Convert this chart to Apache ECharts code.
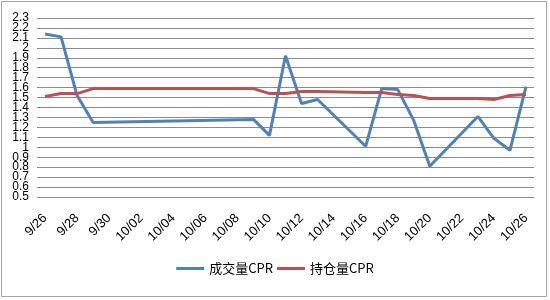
<!DOCTYPE html>
<html>
<head>
<meta charset="utf-8">
<script src="https://cdn.jsdelivr.net/npm/echarts@6/dist/echarts.min.js"></script>
<style>
html,body{margin:0;padding:0;background:#fff;}
#c{width:550px;height:300px;}
</style>
</head>
<body>
<div id="c"></div>
<script>
// All calendar days on the axis (tick labels)
var days = ['9/26','9/27','9/28','9/29','9/30','10/01','10/02','10/03','10/04','10/05','10/06','10/07','10/08','10/09','10/10','10/11','10/12','10/13','10/14','10/15','10/16','10/17','10/18','10/19','10/20','10/21','10/22','10/23','10/24','10/25','10/26'];
// Y tick values
var yTicks = [0.5,0.6,0.7,0.8,0.9,1,1.1,1.2,1.3,1.4,1.5,1.6,1.7,1.8,1.9,2,2.1,2.2,2.3];
// Trading days with data
var tradeDays = ['9/26','9/27','9/28','9/29','10/09','10/10','10/11','10/12','10/13','10/16','10/17','10/18','10/19','10/20','10/23','10/24','10/25','10/26'];
var volumeCPR = [2.14,2.11,1.52,1.25,1.28,1.12,1.92,1.44,1.48,1.01,1.59,1.58,1.27,0.81,1.31,1.09,0.97,1.61];
var oiCPR     = [1.51,1.54,1.54,1.59,1.59,1.54,1.54,1.56,1.56,1.55,1.55,1.53,1.52,1.49,1.49,1.48,1.52,1.53];
var seriesNames = ['成交量CPR','持仓量CPR'];

function pairs(vals){ return tradeDays.map(function(d,i){ return [d, vals[i]]; }); }
var evenTicks = yTicks.filter(function(v,i){return i%2===0;});
var oddTicks = yTicks.filter(function(v,i){return i%2===1;});

function yAxisOf(ticks, showSplit){
  return {
    type:'value',min:yTicks[0],max:yTicks[yTicks.length-1],interval:0.1,position:'left',
    axisLine:{show:false},axisTick:{show:false},
    axisLabel:{customValues:ticks,fontSize:12,color:'#000',fontFamily:'Liberation Sans Narrow, Liberation Sans',margin:8,
      showMinLabel:true,showMaxLabel:true,
      formatter:function(v){return String(+(+v).toFixed(1));}},
    splitLine:{show:showSplit,showMinLine:true,showMaxLine:true,lineStyle:{color:'#8c8c8c',width:1}}
  };
}

var chart = echarts.init(document.getElementById('c'), null, {renderer:'canvas'});
chart.setOption({
  animation:false,
  backgroundColor:'#fff',
  graphic:[{type:'rect',shape:{x:1.5,y:1.5,width:545,height:295},style:{fill:'none',stroke:'#a6a6a6',lineWidth:1}}],
  grid:{left:37,right:16,top:18,bottom:103},
  legend:{
    bottom:20,left:'center',
    itemWidth:28,itemHeight:3,itemGap:4,icon:'rect',
    textStyle:{fontSize:13,color:'#000',fontFamily:'Noto Sans CJK SC'},
    data:seriesNames
  },
  xAxis:{
    type:'category',data:days,boundaryGap:true,
    axisLine:{show:false},axisTick:{show:false},
    axisLabel:{interval:1,rotate:45,fontSize:13,color:'#000',fontFamily:'Liberation Sans',margin:19}
  },
  yAxis:[yAxisOf(evenTicks,true), yAxisOf(oddTicks,false)],
  series:[
    {name:seriesNames[0],type:'line',yAxisIndex:0,data:pairs(volumeCPR),showSymbol:false,symbol:'none',connectNulls:true,
     lineStyle:{color:'#4f81bd',width:3},itemStyle:{color:'#4f81bd'}},
    {name:seriesNames[1],type:'line',yAxisIndex:0,data:pairs(oiCPR),showSymbol:false,symbol:'none',connectNulls:true,
     lineStyle:{color:'#c0504d',width:3},itemStyle:{color:'#c0504d'}}
  ]
});
</script>
</body>
</html>
